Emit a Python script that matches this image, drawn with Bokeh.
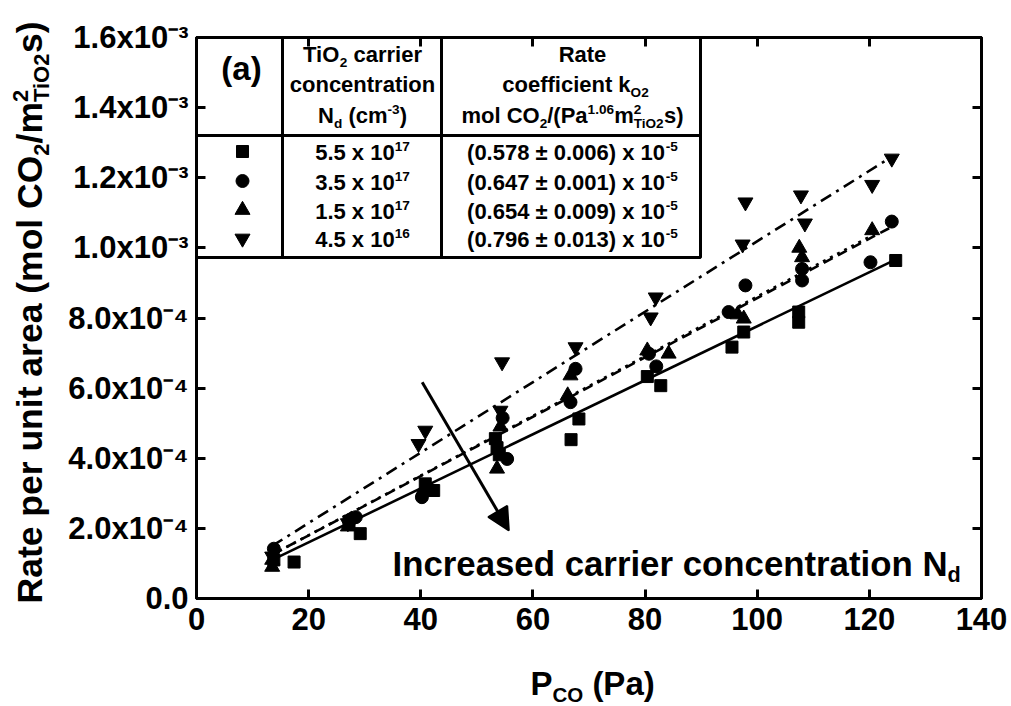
import math
from bokeh.plotting import figure
from bokeh.layouts import row, column
from bokeh.models import Range1d, LinearAxis, FixedTicker, Arrow, NormalHead
from bokeh.core.properties import value
from bokeh.embed import file_html
from bokeh.resources import INLINE

# ---------------- data (P_CO in Pa, rate in mol CO2 / (m2 TiO2 s)) ----------------
sq_x = [13.8, 17.4, 27.2, 29.2, 40.8, 42.3, 53.3, 53.6, 54.0, 66.8, 68.2, 80.4, 82.8, 95.5, 97.6, 107.4, 107.4, 124.7]
sq_y = [1.10e-4, 1.04e-4, 2.18e-4, 1.85e-4, 3.27e-4, 3.08e-4, 4.56e-4, 4.30e-4, 4.10e-4, 4.53e-4, 5.12e-4,
        6.33e-4, 6.07e-4, 7.17e-4, 7.60e-4, 8.17e-4, 7.88e-4, 9.64e-4]
ci_x = [13.8, 27.5, 28.4, 40.2, 54.6, 55.4, 66.7, 67.6, 80.7, 82.0, 94.9, 97.9, 108.0, 108.0, 120.2, 124.0]
ci_y = [1.42e-4, 2.25e-4, 2.32e-4, 2.89e-4, 5.15e-4, 3.98e-4, 5.60e-4, 6.55e-4, 6.98e-4, 6.62e-4, 8.17e-4,
        8.93e-4, 9.07e-4, 9.40e-4, 9.59e-4, 1.075e-3]
tr_x = [13.5, 13.5, 27.0, 40.5, 53.6, 54.2, 66.2, 66.7, 80.4, 84.2, 96.5, 97.6, 107.5, 108.0, 120.5]
tr_y = [0.90e-4, 1.10e-4, 2.05e-4, 3.10e-4, 3.70e-4, 4.90e-4, 5.79e-4, 6.36e-4, 7.07e-4, 6.98e-4, 8.10e-4,
        7.98e-4, 1.00e-3, 9.73e-4, 1.05e-3]
td_x = [13.5, 27.0, 39.6, 40.8, 54.2, 54.5, 67.6, 81.0, 81.9, 97.4, 97.9, 107.8, 108.5, 120.5, 124.0]
td_y = [1.20e-4, 2.15e-4, 4.41e-4, 4.79e-4, 5.36e-4, 6.74e-4, 7.17e-4, 8.02e-4, 8.59e-4, 1.01e-3, 1.13e-3,
        1.15e-3, 1.07e-3, 1.18e-3, 1.255e-3]

# fitted lines (end points)
fit_sq_x = [13.5, 125.5]; fit_sq_y = [1.10e-4, 9.73e-4]
fit_ci_x = [13.5, 124.0]; fit_ci_y = [1.25e-4, 1.06e-3]
fit_tr_x = [13.5, 121.0]; fit_tr_y = [1.25e-4, 1.04e-3]
fit_td_x = [13.5, 124.0]; fit_td_y = [1.50e-4, 1.26e-3]

x_ticks = [0, 20, 40, 60, 80, 100, 120, 140]
y_ticks = [0.0, 2e-4, 4e-4, 6e-4, 8e-4, 1.0e-3, 1.2e-3, 1.4e-3, 1.6e-3]
y_tick_labels = ["0.0", "2.0x10\u207b\u2074", "4.0x10\u207b\u2074", "6.0x10\u207b\u2074", "8.0x10\u207b\u2074",
                 "1.0x10\u207b\u00b3", "1.2x10\u207b\u00b3", "1.4x10\u207b\u00b3", "1.6x10\u207b\u00b3"]

# table content
nd_mant = ["5.5 x 10", "3.5 x 10", "1.5 x 10", "4.5 x 10"]
nd_exp = ["17", "17", "17", "16"]
k_mant = ["(0.578 \u00b1 0.006) x 10", "(0.647 \u00b1 0.001) x 10", "(0.654 \u00b1 0.009) x 10", "(0.796 \u00b1 0.013) x 10"]
k_exp = ["-5", "-5", "-5", "-5"]
row_markers = ["square", "circle", "triangle", "inverted_triangle"]

# ---------------- geometry (global page pixels) ----------------
W, H = 1011, 706
LEFTW = 60            # strip holding the rotated y title
PH = 660              # height of the main figure; below it a strip for the x title
FL, FR, FT, FB = 196, 981, 37, 598
XMAX, YMAX = 140.0, 1.6e-3
XS = (FR - FL) / XMAX
YS = (FB - FT) / YMAX
def dx(px): return (px - FL) / XS
def dy(py): return (FB - py) / YS

FONT = "Liberation Sans"
MID = 0.35   # distance baseline -> middle of text, in em
AW = {' ': 278, '(': 333, ')': 333, '.': 278, '/': 278, '-': 333, '\u00b1': 584,
      'A': 722, 'C': 722, 'I': 278, 'N': 722, 'O': 778, 'P': 667, 'R': 722, 'T': 611,
      'a': 556, 'b': 611, 'c': 556, 'd': 611, 'e': 556, 'f': 333, 'i': 278, 'k': 556, 'l': 278,
      'm': 889, 'n': 611, 'o': 611, 'p': 611, 'r': 389, 's': 556, 't': 333, 'u': 611, 'x': 556}
def tw(s, size):
    return sum(AW.get(c, 556) for c in s) * size / 1000.0

def pieces(parts, f, anchor, base, align="center"):
    """Lay out a line of normal / sup / sub pieces; returns (x, baseline, text, size)."""
    def psize(k):
        return f if k == "n" else 0.62 * f
    def adv(t, k):
        return 0.0 if k == "sup0" else tw(t, psize(k))
    total = sum(adv(t, k) for t, k in parts)
    x = anchor - total / 2 if align == "center" else anchor
    out = []
    for t, k in parts:
        s = psize(k)
        lead = len(t) - len(t.lstrip(" "))
        x += tw(" " * lead, s)
        t2 = t.lstrip(" ")
        if k == "n":
            b = base
        elif k in ("sup", "sup0"):
            b = base - 0.40 * f
        else:
            b = base + 0.20 * f
        out.append((x, b, t2, s))
        if k != "sup0":
            x += tw(t2, s)
    return out

def draw_texts(fig, items, fx, fy, angle=0.0):
    groups = {}
    for a, b, t, s in items:
        groups.setdefault(round(s, 1), []).append((fx(a, b, s), fy(a, b, s), t))
    for s, lst in groups.items():
        fig.text(x=[q[0] for q in lst], y=[q[1] for q in lst], text=[q[2] for q in lst], angle=angle,
                 text_font=value(FONT), text_font_style="bold", text_font_size="%.1fpx" % s,
                 text_align="left", text_baseline="middle", text_color="black")

def strip_fig(w, h, x0, x1, y0, y1, bl=0, br=0):
    f = figure(width=w, height=h, x_range=Range1d(x0, x1), y_range=Range1d(y0, y1),
               title=None, output_backend="svg", toolbar_location=None, x_axis_type=None, y_axis_type=None,
               min_border=0, min_border_left=bl, min_border_right=br, min_border_top=0, min_border_bottom=0)
    f.outline_line_color = None
    f.xgrid.visible = False
    f.ygrid.visible = False
    f.background_fill_color = "white"
    f.border_fill_color = "white"
    return f

# ---------------- main figure ----------------
p = figure(width=W - LEFTW, height=PH, x_range=Range1d(0, XMAX), y_range=Range1d(0, YMAX),
           title=None, output_backend="svg", toolbar_location=None,
           min_border_left=FL - LEFTW, min_border_right=W - FR, min_border_top=FT, min_border_bottom=PH - FB)
p.background_fill_color = "white"
p.border_fill_color = "white"
p.outline_line_color = "black"
p.outline_line_width = 3
p.xgrid.visible = False
p.ygrid.visible = False

# fit lines
LW = 2.6
p.line(fit_sq_x, fit_sq_y, line_color="black", line_width=LW)
p.line(fit_ci_x, fit_ci_y, line_color="black", line_width=LW, line_dash="10 6")
p.line(fit_tr_x, fit_tr_y, line_color="black", line_width=LW, line_dash="3 5")
p.line(fit_td_x, fit_td_y, line_color="black", line_width=LW, line_dash="12 6 3 6")

# markers
p.scatter(sq_x, sq_y, marker="square", size=12, color="black")
p.scatter(ci_x, ci_y, marker="circle", size=13, color="black")
p.scatter(tr_x, tr_y, marker="triangle", size=15, color="black")
p.scatter(td_x, td_y, marker="inverted_triangle", size=15, color="black")

# ---------------- table ----------------
TR, TB, TH = 700, 257, 135
C1, C2 = 282, 441
p.quad(left=[0], right=[dx(TR)], top=[YMAX], bottom=[dy(TB)], fill_color="white",
       line_color="black", line_width=3)
p.segment(x0=[dx(C1), dx(C2), 0], y0=[YMAX, YMAX, dy(TH)], x1=[dx(C1), dx(C2), dx(TR)],
          y1=[dy(TB), dy(TB), dy(TH)], line_color="black", line_width=3)

rows_base = [160, 189.5, 218.5, 247]
cen1, cen2 = 362, 572
TF = 22
txt = []
txt += pieces([("(a)", "n")], 33, 241, 80)
txt += pieces([("TiO", "n"), ("2", "sub"), (" carrier", "n")], TF, cen1, 62)
txt += pieces([("concentration", "n")], TF, cen1, 92)
txt += pieces([("N", "n"), ("d", "sub"), (" (cm", "n"), ("-3", "sup"), (")", "n")], TF, cen1, 123)
txt += pieces([("Rate", "n")], TF, 582, 62)
txt += pieces([("coefficient k", "n"), ("O2", "sub")], TF, 575, 92)
txt += pieces([("mol CO", "n"), ("2", "sub"), ("/(Pa", "n"), ("1.06", "sup"), ("m", "n"), ("2", "sup0"),
               ("TiO2", "sub"), ("s)", "n")], TF, cen2, 123)
for i in range(4):
    txt += pieces([(nd_mant[i], "n"), (nd_exp[i], "sup")], TF, cen1, rows_base[i])
    txt += pieces([(k_mant[i], "n"), (k_exp[i], "sup")], TF, cen2, rows_base[i])
txt += pieces([("Increased carrier concentration N", "n"), ("d", "sub")], 34.8, 392, 575, align="left")
draw_texts(p, txt, lambda a, b, s: dx(a), lambda a, b, s: dy(b - MID * s))

p.scatter(x=[dx(242)] * 4, y=[dy(b - 9) for b in rows_base], marker=row_markers, size=[12, 13, 15, 15],
          color="black")

# arrow
p.add_layout(Arrow(end=NormalHead(size=22, fill_color="black", line_color="black", line_width=2),
                   x_start=40.25, y_start=6.17e-4, x_end=55.7, y_end=1.94e-4,
                   line_color="black", line_width=3))

# ---------------- axes ----------------
for ax in (p.xaxis[0], p.yaxis[0]):
    ax.axis_line_width = 3
    ax.major_tick_line_width = 3
    ax.major_tick_in = 9
    ax.major_tick_out = 0
    ax.minor_tick_line_color = None
    ax.major_label_text_font = FONT
    ax.major_label_text_font_style = "bold"
    ax.major_label_text_color = "black"
p.xaxis[0].ticker = FixedTicker(ticks=x_ticks)
p.yaxis[0].ticker = FixedTicker(ticks=y_ticks)
p.xaxis[0].major_label_text_font_size = "31px"
p.yaxis[0].major_label_text_font_size = "31px"
p.xaxis[0].major_label_standoff = 9
p.yaxis[0].major_label_standoff = 8
p.yaxis[0].major_label_overrides = {t: l for t, l in zip(y_ticks, y_tick_labels)}

def mirror_axis(ticks):
    a = LinearAxis(ticker=FixedTicker(ticks=ticks), axis_line_width=3, major_tick_line_width=3,
                   major_tick_in=9, major_tick_out=0, minor_tick_line_color=None, major_label_standoff=0,
                   major_label_text_font_size="10px", major_label_text_color=None)
    a.major_label_overrides = {t: "" for t in ticks}
    return a
p.add_layout(mirror_axis(y_ticks), "right")
p.add_layout(mirror_axis(x_ticks), "above")

# ---------------- y title strip (left), text runs upward ----------------
yl = strip_fig(LEFTW, H, 0, LEFTW, 0, H)
yf = 35.5
bx = 42.0
ytitle = []
pos = 603.0
for t, k in [("Rate per unit area (mol CO", "n"), ("2", "sub"), ("/m", "n"), ("2", "sup0"), ("TiO2", "sub"), ("s)", "n")]:
    if k == "n":
        s = yf; px = bx
    elif k in ("sup", "sup0"):
        s = 0.62 * yf; px = bx - 0.40 * yf
    else:
        s = 0.62 * yf; px = bx + 0.20 * yf
    ytitle.append((px, pos, t, s))
    if k != "sup0":
        pos -= tw(t, s)
draw_texts(yl, ytitle, lambda a, b, s: a - MID * s, lambda a, b, s: H - b, angle=math.pi / 2)

# ---------------- x title strip (bottom), same side borders as the main figure ----------------
xl = strip_fig(W - LEFTW, H - PH, FL, FR, 0, H - PH, bl=FL - LEFTW, br=W - FR)
xt = pieces([("P", "n"), ("CO", "sub"), (" (Pa)", "n")], 33, 530, 695, align="left")
draw_texts(xl, xt, lambda a, b, s: a, lambda a, b, s: H - (b - MID * s))

layout = row(yl, column(p, xl))
open("out.html", "w").write(file_html(layout, INLINE))
